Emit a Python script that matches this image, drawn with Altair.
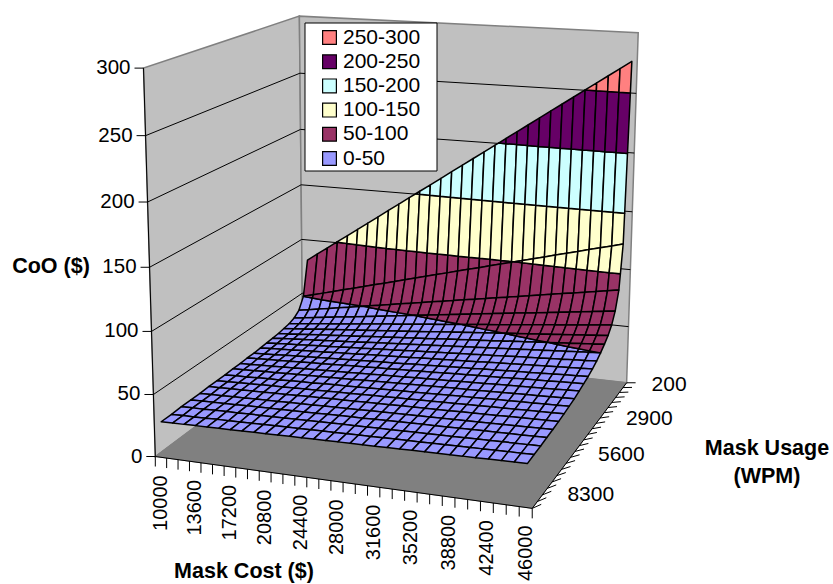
import altair as alt
import numpy as np

# Axis categories of the surface
mask_cost = list(range(10000, 46001, 1200))
mask_usage = list(range(200, 9651, 450))
cost_labels = mask_cost[::3]
usage_labels = mask_usage[::6]
coo_ticks = [0, 50, 100, 150, 200, 250, 300]

# Cost of ownership ($); one row per mask usage, one column per mask cost
coo_200 = [81,87.5,94,100.5,107,113.5,120,126.5,133,139.5,146,152.5,159,165.5,172,178.5,185,191.5,198,204.5,211,217.5,224,230.5,237,243.5,250,256.5,263,269.5,276]
coo_650 = [50,52.5,54.9,57.4,59.9,62.3,64.8,67.3,69.7,72.2,74.7,77.1,79.6,82.1,84.5,87,89.5,91.9,94.4,96.9,99.3,101.8,104.3,106.7,109.2,111.7,114.1,116.6,119.1,121.5,124]
coo_1100 = [40,41.6,43.1,44.7,46.3,47.8,49.4,51,52.5,54.1,55.7,57.2,58.8,60.4,61.9,63.5,65.1,66.6,68.2,69.8,71.3,72.9,74.5,76,77.6,79.2,80.7,82.3,83.9,85.4,87]
coo_1550 = [36,37.2,38.4,39.6,40.8,42,43.2,44.4,45.6,46.8,48,49.2,50.4,51.6,52.8,54,55.2,56.4,57.6,58.8,60,61.2,62.4,63.6,64.8,66,67.2,68.4,69.6,70.8,72]
coo_2000 = [34,35,35.9,36.9,37.9,38.8,39.8,40.8,41.7,42.7,43.7,44.6,45.6,46.6,47.5,48.5,49.5,50.4,51.4,52.4,53.3,54.3,55.3,56.2,57.2,58.2,59.1,60.1,61.1,62,63]
coo_2450 = [33,33.8,34.6,35.5,36.3,37.1,37.9,38.7,39.5,40.4,41.2,42,42.8,43.6,44.4,45.3,46.1,46.9,47.7,48.5,49.3,50.2,51,51.8,52.6,53.4,54.2,55.1,55.9,56.7,57.5]
coo_2900 = [32,32.7,33.4,34.2,34.9,35.6,36.3,37,37.7,38.5,39.2,39.9,40.6,41.3,42,42.8,43.5,44.2,44.9,45.6,46.3,47.1,47.8,48.5,49.2,49.9,50.6,51.4,52.1,52.8,53.5]
coo_3350 = [31.5,32.1,32.7,33.4,34,34.6,35.2,35.8,36.4,37.1,37.7,38.3,38.9,39.5,40.1,40.8,41.4,42,42.6,43.2,43.8,44.5,45.1,45.7,46.3,46.9,47.5,48.2,48.8,49.4,50]
coo_3800 = [31,31.5,32.1,32.6,33.1,33.7,34.2,34.7,35.3,35.8,36.3,36.9,37.4,37.9,38.5,39,39.5,40.1,40.6,41.1,41.7,42.2,42.7,43.3,43.8,44.3,44.9,45.4,45.9,46.5,47]
coo_4250 = [30.5,31,31.4,31.9,32.4,32.8,33.3,33.8,34.2,34.7,35.2,35.6,36.1,36.6,37,37.5,38,38.4,38.9,39.4,39.8,40.3,40.8,41.2,41.7,42.2,42.6,43.1,43.6,44,44.5]
coo_4700 = [30,30.4,30.8,31.3,31.7,32.1,32.5,32.9,33.3,33.8,34.2,34.6,35,35.4,35.8,36.3,36.7,37.1,37.5,37.9,38.3,38.8,39.2,39.6,40,40.4,40.8,41.3,41.7,42.1,42.5]
coo_5150 = [30,30.4,30.7,31.1,31.5,31.8,32.2,32.6,32.9,33.3,33.7,34,34.4,34.8,35.1,35.5,35.9,36.2,36.6,37,37.3,37.7,38.1,38.4,38.8,39.2,39.5,39.9,40.3,40.6,41]
coo_5600 = [29.5,29.8,30.2,30.5,30.8,31.2,31.5,31.8,32.2,32.5,32.8,33.2,33.5,33.8,34.2,34.5,34.8,35.2,35.5,35.8,36.2,36.5,36.8,37.2,37.5,37.8,38.2,38.5,38.8,39.2,39.5]
coo_6050 = [29.5,29.8,30.1,30.4,30.6,30.9,31.2,31.5,31.8,32,32.3,32.6,32.9,33.2,33.5,33.8,34,34.3,34.6,34.9,35.2,35.4,35.7,36,36.3,36.6,36.9,37.1,37.4,37.7,38]
coo_6500 = [29,29.3,29.5,29.8,30.1,30.3,30.6,30.9,31.1,31.4,31.7,31.9,32.2,32.5,32.7,33,33.3,33.5,33.8,34.1,34.3,34.6,34.9,35.1,35.4,35.7,35.9,36.2,36.5,36.7,37]
coo_6950 = [29,29.2,29.5,29.7,29.9,30.2,30.4,30.6,30.9,31.1,31.3,31.6,31.8,32,32.3,32.5,32.7,33,33.2,33.4,33.7,33.9,34.1,34.4,34.6,34.8,35.1,35.3,35.5,35.8,36]
coo_7400 = [29,29.2,29.4,29.6,29.8,30,30.2,30.4,30.7,30.9,31.1,31.3,31.5,31.7,31.9,32.1,32.3,32.5,32.7,32.9,33.1,33.3,33.6,33.8,34,34.2,34.4,34.6,34.8,35,35.2]
coo_7850 = [28.5,28.7,28.9,29.1,29.3,29.5,29.7,29.9,30.1,30.3,30.5,30.7,30.9,31.1,31.3,31.5,31.7,31.9,32.1,32.3,32.5,32.7,32.9,33.1,33.3,33.5,33.7,33.9,34.1,34.3,34.5]
coo_8300 = [28.5,28.7,28.9,29,29.2,29.4,29.6,29.8,30,30.1,30.3,30.5,30.7,30.9,31.1,31.2,31.4,31.6,31.8,32,32.2,32.3,32.5,32.7,32.9,33.1,33.3,33.4,33.6,33.8,34]
coo_8750 = [28.5,28.7,28.8,29,29.2,29.3,29.5,29.6,29.8,30,30.1,30.3,30.5,30.6,30.8,30.9,31.1,31.3,31.4,31.6,31.8,31.9,32.1,32.2,32.4,32.6,32.7,32.9,33.1,33.2,33.4]
coo_9200 = [28,28.2,28.3,28.5,28.7,28.8,29,29.2,29.3,29.5,29.7,29.8,30,30.2,30.3,30.5,30.7,30.8,31,31.2,31.3,31.5,31.7,31.8,32,32.2,32.3,32.5,32.7,32.8,33]
coo_9650 = [28,28.2,28.3,28.5,28.6,28.8,28.9,29.1,29.2,29.4,29.5,29.7,29.8,30,30.1,30.3,30.4,30.6,30.7,30.9,31,31.2,31.3,31.5,31.6,31.8,31.9,32.1,32.2,32.4,32.5]

coo_rows = [coo_200, coo_650, coo_1100, coo_1550, coo_2000, coo_2450, coo_2900, coo_3350,
            coo_3800, coo_4250, coo_4700, coo_5150, coo_5600, coo_6050, coo_6500, coo_6950,
            coo_7400, coo_7850, coo_8300, coo_8750, coo_9200, coo_9650]

band_edges = [0, 50, 100, 150, 200, 250, 300]
band_names = ["250-300", "200-250", "150-200", "100-150", "50-100", "0-50"]
band_colors = ["#FF8080", "#660066", "#CCFFFF", "#FFFFCC", "#993366", "#9999FF"]
FONT = "Liberation Sans"

# Camera: perspective matrix solved from where the box corners (cost, usage, CoO) land on the page
box_corners = [(0, 0, 0), (1, 0, 0), (1, 1, 0), (0, 1, 0), (0, 0, 1), (1, 0, 1), (0, 1, 1)]
box_page = [(302, 347), (627, 382), (532, 509), (156, 456), (300, 16), (638, 33), (143, 68)]

rows_a, rows_b = [], []
for (a, b, c), (px, py) in zip(box_corners, box_page):
    rows_a.append([a, b, c, 1, 0, 0, 0, 0, -px * a, -px * b, -px * c])
    rows_b.append(px)
    rows_a.append([0, 0, 0, 0, a, b, c, 1, -py * a, -py * b, -py * c])
    rows_b.append(py)
cam = np.append(np.linalg.lstsq(np.array(rows_a, float), np.array(rows_b, float), rcond=None)[0], 1.0).reshape(3, 4)


def page(u, v, w):
    """Page position of a point in the unit box."""
    p = cam @ np.array([u, v, w, 1.0])
    return [round(float(p[0] / p[2]), 2), round(float(p[1] / p[2]), 2)]


def polygon(points, **props):
    ring = list(points) + [points[0]]
    return {"type": "Feature", "properties": props,
            "geometry": {"type": "Polygon", "coordinates": [ring]}}


def segment(a, b):
    return {"type": "Feature", "properties": {},
            "geometry": {"type": "LineString", "coordinates": [a, b]}}


def clip(poly, level, keep_above):
    """Cut a polygon of (u, v, coo) points along one CoO level."""
    out = []
    for k, p in enumerate(poly):
        q = poly[(k + 1) % len(poly)]
        p_in = p[2] >= level if keep_above else p[2] <= level
        q_in = q[2] >= level if keep_above else q[2] <= level
        if p_in:
            out.append(p)
        if p_in != q_in:
            t = (level - p[2]) / (q[2] - p[2])
            out.append((p[0] + t * (q[0] - p[0]), p[1] + t * (q[1] - p[1]), float(level)))
    return out


def row_depth(j):
    """Depth of a usage row in the box; rows bunch up toward the back wall."""
    return -0.005 + 0.0345 * j + 0.00062 * j * j


# Surface pieces, far cells first so nearer ones paint over them
n_cost, n_usage = len(mask_cost), len(mask_usage)
surface = []
for j in range(n_usage - 1):
    for i in range(n_cost - 1):
        cell = [((i + .5) / n_cost, row_depth(j), coo_rows[j][i]),
                ((i + 1.5) / n_cost, row_depth(j), coo_rows[j][i + 1]),
                ((i + 1.5) / n_cost, row_depth(j + 1), coo_rows[j + 1][i + 1]),
                ((i + .5) / n_cost, row_depth(j + 1), coo_rows[j + 1][i])]
        for b in range(len(band_edges) - 1):
            piece = clip(cell, band_edges[b], True)
            piece = clip(piece, band_edges[b + 1], False) if piece else piece
            if len(piece) >= 3:
                surface.append(polygon([page(p[0], p[1], p[2] / 300) for p in piece],
                                       band=band_names[len(band_names) - 1 - b]))

# Box: two walls and the floor
walls = [polygon([page(0, 0, 0), page(0, 1, 0), page(0, 1, 1), page(0, 0, 1)]),
         polygon([page(0, 0, 0), page(1, 0, 0), page(1, 0, 1), page(0, 0, 1)])]
floor = [polygon([page(0, 0, 0), page(1, 0, 0), page(1, 1, 0), page(0, 1, 0)])]

grid = []
for t in coo_ticks[1:-1]:
    w = t / 300
    grid.append(segment(page(0, 1, w), page(0, 0, w)))
    grid.append(segment(page(0, 0, w), page(1, 0, w)))

axis_lines = [segment(page(0, 1, 0), page(0, 1, 1)),
              segment(page(0, 1, 0), page(1, 1, 0)),
              segment(page(1, 1, 0), page(1, 0, 0))]
for t in coo_ticks:
    a = page(0, 1, t / 300)
    axis_lines.append(segment(a, [a[0] - 9, a[1]]))
for i in range(n_cost + 1):
    a = page(i / n_cost, 1, 0)
    axis_lines.append(segment(a, [a[0], a[1] + 10]))
for j in range(n_usage + 1):
    a = page(1, j / n_usage, 0)
    axis_lines.append(segment(a, [a[0] + 9, a[1] - 4 * j / n_usage]))

legend_box = [polygon([[305, 23], [437, 23], [437, 171], [305, 171]])]

# Label tables
coo_text = []
for t in coo_ticks:
    a = page(0, 1, t / 300)
    coo_text.append({"px": a[0] - 13, "py": a[1], "text": str(t)})
cost_text = []
for c in cost_labels:
    a = page((mask_cost.index(c) + .5) / n_cost, 1, 0)
    cost_text.append({"px": a[0], "py": a[1] + 18, "text": str(c)})
usage_text = []
for c in usage_labels:
    d = (mask_usage.index(c) + .5) / n_usage
    a = page(1, d, 0)
    usage_text.append({"px": a[0] + 27 - 11 * d, "py": a[1] + 12 * d, "text": str(c)})
title_text = [{"px": 244, "py": 572, "text": "Mask Cost ($)"},
              {"px": 51, "py": 267, "text": "CoO ($)"},
              {"px": 767, "py": 449, "text": "Mask Usage"},
              {"px": 767, "py": 477, "text": "(WPM)"}]

identity = dict(type="identity", scale=1, translate=[0, 0])
x_page = alt.X("px:Q", scale=alt.Scale(domain=[0, 833], range=[0, 833]), axis=None)
y_page = alt.Y("py:Q", scale=alt.Scale(domain=[0, 584], range=[0, 584]), axis=None)


def shapes(features, **mark):
    return alt.Chart(alt.Data(values=features)).mark_geoshape(**mark).project(**identity)


def labels(rows, **mark):
    return alt.Chart(alt.Data(values=rows)).mark_text(font=FONT, color="black", **mark).encode(
        x=x_page, y=y_page, text="text:N")


surface_layer = shapes(surface, stroke="black", strokeWidth=1.5, strokeJoin="round").encode(
    color=alt.Color("properties.band:N",
                    scale=alt.Scale(domain=band_names, range=band_colors),
                    legend=alt.Legend(orient="none", legendX=319, legendY=27, title=None,
                                      symbolType="square", symbolSize=190,
                                      symbolStrokeColor="black", symbolStrokeWidth=1.2,
                                      labelFont=FONT, labelFontSize=21, labelColor="black",
                                      labelOffset=3, rowPadding=2.2, padding=0)))

chart = alt.layer(
    shapes(walls, fill="#C0C0C0", stroke="#808080", strokeWidth=1.5),
    shapes(floor, fill="#808080", stroke="#808080", strokeWidth=1),
    shapes(grid, filled=False, stroke="black", strokeWidth=1),
    shapes(axis_lines, filled=False, stroke="black", strokeWidth=1),
    shapes(legend_box, fill="white", stroke="black", strokeWidth=1),
    surface_layer,
    labels(coo_text, align="right", baseline="middle", fontSize=20.5),
    labels(cost_text, align="right", baseline="middle", fontSize=20, angle=270),
    labels(usage_text, align="left", baseline="middle", fontSize=21),
    labels(title_text, align="center", baseline="middle", fontSize=21.5, fontWeight="bold"),
).properties(width=833, height=584, padding=0, autosize="none", background="white").configure_view(stroke=None)

chart.save("out.html", embed_options={"renderer": "svg", "actions": False})
